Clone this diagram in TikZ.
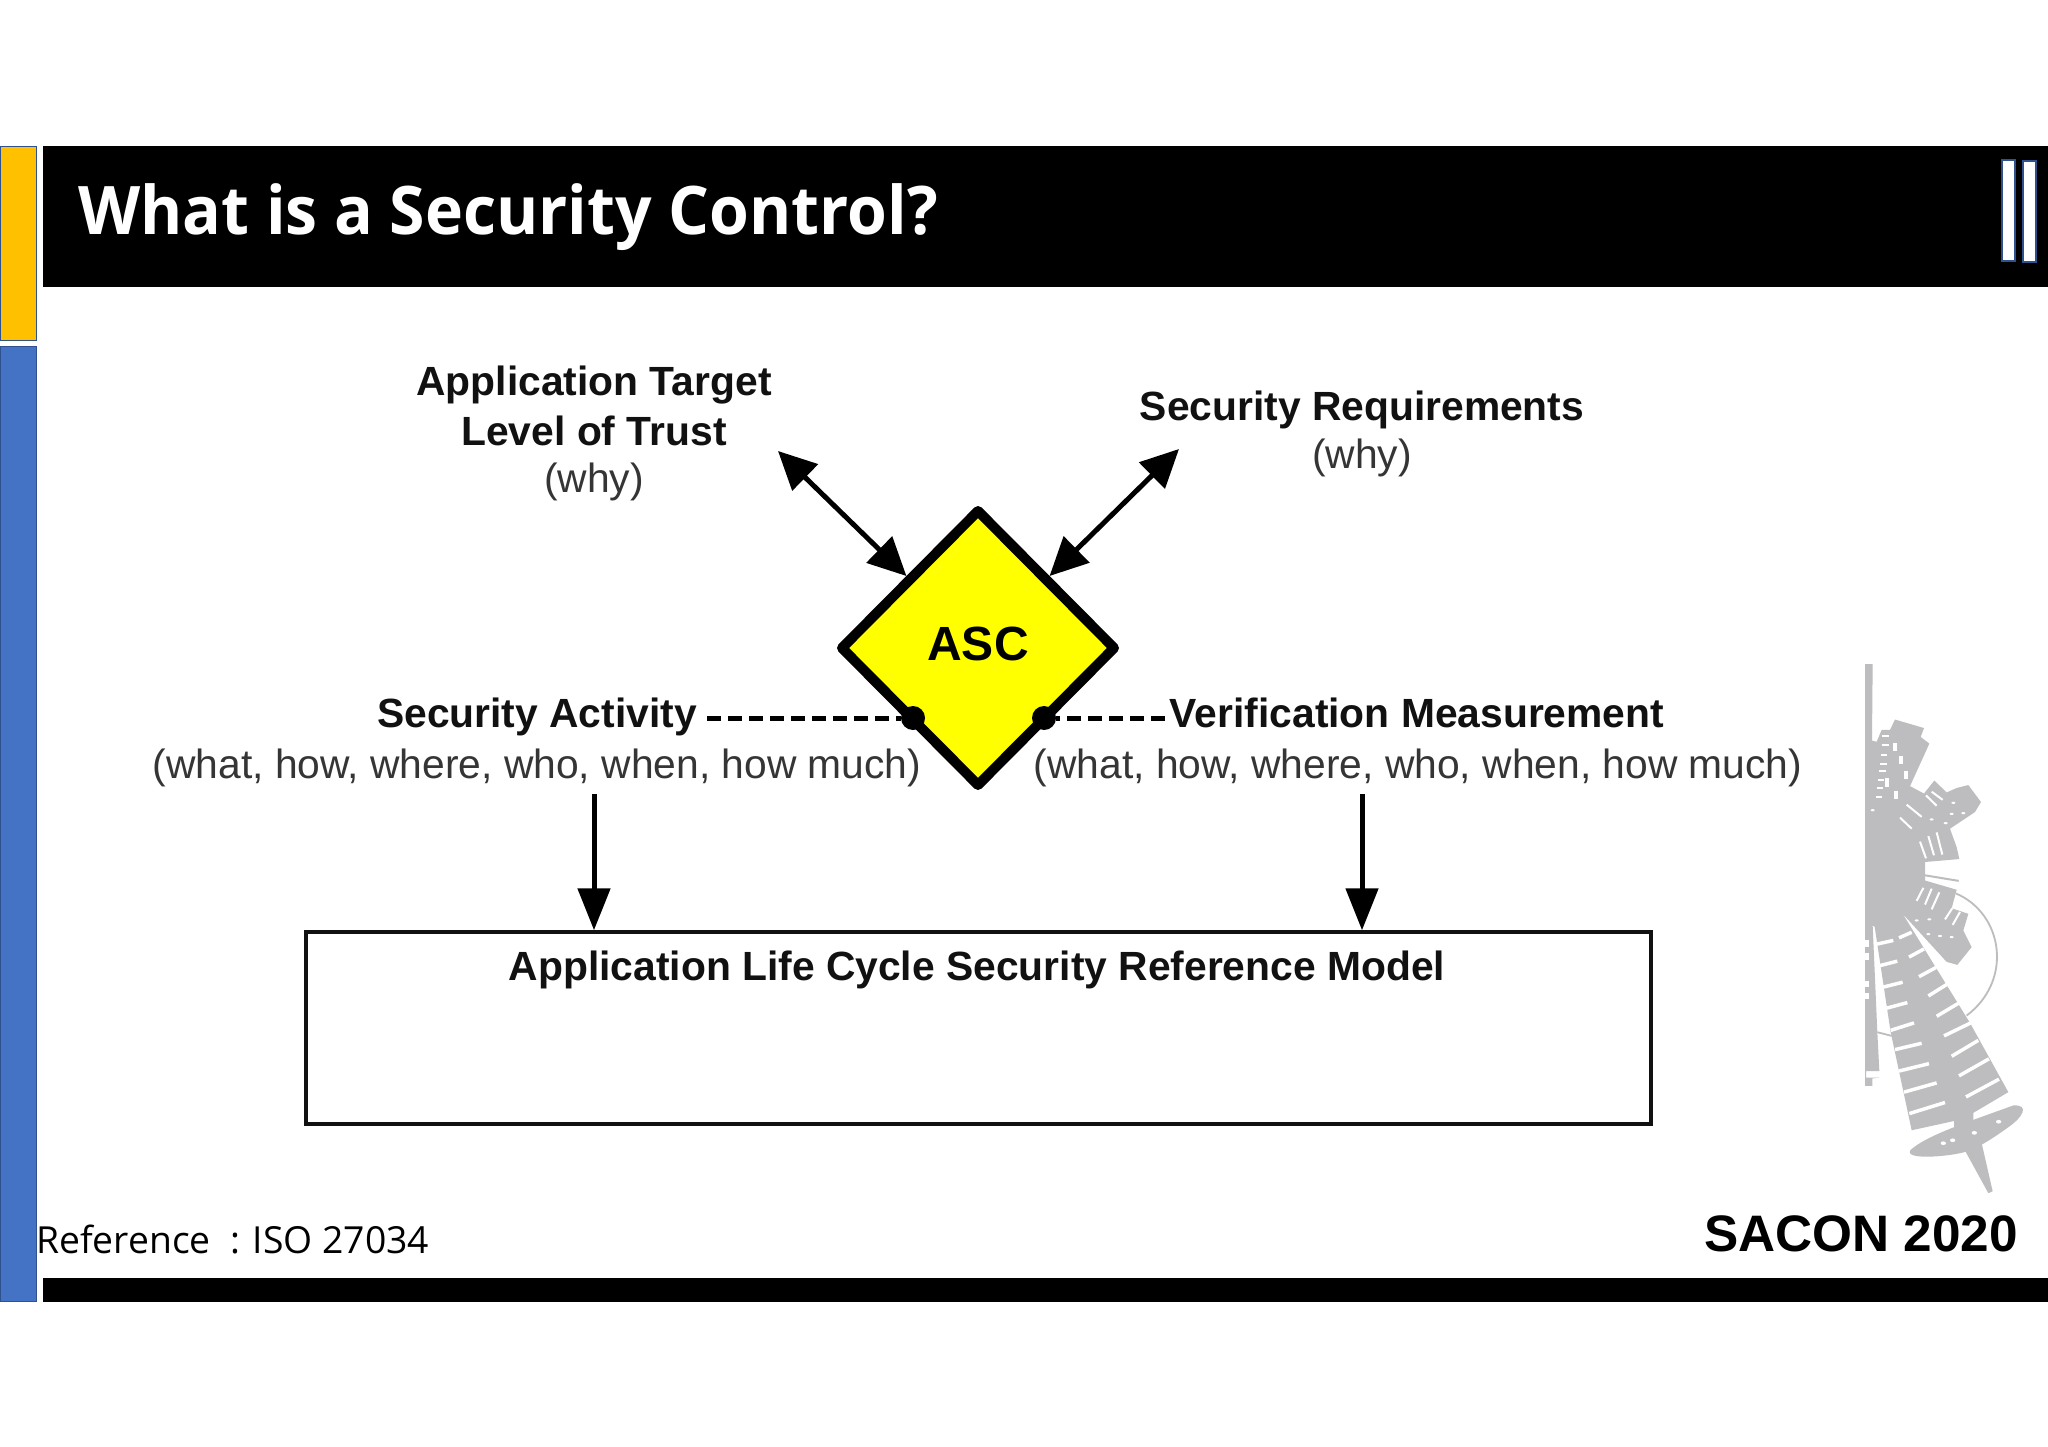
\documentclass[tikz,border=0pt]{standalone}
\usepackage{fontspec}
\setmainfont{Liberation Sans}
\newfontfamily\titlefont[FakeStretch=0.96]{Open Sans}
\newfontfamily\notefont{Open Sans}
\usetikzlibrary{shapes.geometric, arrows.meta}
\definecolor{sidegold}{HTML}{FFC000}
\definecolor{sideblue}{HTML}{4472C4}
\definecolor{barnavy}{HTML}{2F528F}
\definecolor{logogrey}{HTML}{BDBCBE}
\definecolor{inkblack}{HTML}{111111}
\definecolor{ascyellow}{HTML}{FFFF00}
\tikzset{
	sidebar/.style={fill=#1, draw=barnavy, line width=0.8pt},
	blackbar/.style={fill=black, draw=none},
	whitebar/.style={fill=white, draw=barnavy, line width=1.5pt},
	headtext/.style={font=\fontsize{40.8}{50}\bfseries\selectfont, text=inkblack, inner sep=0pt, align=center, anchor=base},
	subtext/.style={font=\fontsize{40.8}{50}\selectfont, text=inkblack!85!white, inner sep=0pt, align=center, anchor=base},
	bothways/.style={line width=5pt, shorten >=5pt, {Triangle[length=38pt,width=36pt]}-{Triangle[length=38pt,width=36pt]}},
	downway/.style={line width=5pt, -{Triangle[length=42pt,width=32pt]}},
	dashline/.style={line width=5pt, dash pattern=on 14pt off 7pt},
	joint/.style={circle, fill=black, inner sep=0pt, minimum size=24pt},
	slit/.style={white, line width=#1},
	slit/.default=3.5pt,
}
\begin{document}
\begin{tikzpicture}[x=1pt, y=-1pt]
	\useasboundingbox (0,0) rectangle (2048,1447);
	\fill[white] (0,0) rectangle (2048,1447);
	\draw[sidebar=sidegold] (0,146) rectangle (36,340);
	\draw[sidebar=sideblue] (0,346) rectangle (36,1301);
	\fill[blackbar] (43,146) rectangle (2048,287);
	\fill[blackbar] (43,1278) rectangle (2048,1302);
	\draw[whitebar] (2002,160) rectangle (2015,261);
	\draw[whitebar] (2023,161) rectangle (2036,262);
	\node[anchor=base west, text=white, inner sep=0pt, font=\fontsize{67}{70}\titlefont\bfseries\selectfont] (title) at (78,235) {What is a Security Control?};
	\node[anchor=base west, inner sep=0pt, font=\fontsize{37.3}{44}\notefont\selectfont] (source) at (36,1253) {Reference\ \ : ISO 27034};
	\node[anchor=base east, inner sep=0pt, font=\fontsize{51.3}{60}\bfseries\selectfont] (sacon) at (2018,1251) {SACON 2020};

	\node[diamond, draw=black, fill=ascyellow, line width=10pt, line join=round, inner sep=0pt, outer sep=0pt, minimum width=272pt, minimum height=274pt] (asc) at (978,648) {};
	\node[font=\fontsize{48}{48}\bfseries\selectfont, inner sep=0pt] (asclabel) at (978,644) {ASC};

	\node[headtext] (trust) at (594,445) {Application Target\\Level of Trust};
	\node[subtext] (trustwhy) at (594,492) {(why)};
	\node[headtext] (req) at (1362,420) {Security Requirements};
	\node[subtext] (reqwhy) at (1362,468) {(why)};
	\node[headtext] (act) at (537,727) {Security Activity};
	\node[subtext] (actwhat) at (537,778) {(what, how, where, who, when, how much)};
	\node[headtext] (ver) at (1417,727) {Verification Measurement};
	\node[subtext] (verwhat) at (1418,778) {(what, how, where, who, when, how much)};

	\coordinate (trustend) at (778,451);
	\coordinate (reqend) at (1179,449);
	\draw[bothways] (trustend) -- (asc.north west);
	\draw[bothways] (reqend) -- (asc.north east);

	\node[joint] (actdot) at (913,718) {};
	\node[joint] (verdot) at (1044,718) {};
	\coordinate (actdash) at (707,718);
	\coordinate (verdash) at (1165,718);
	\draw[dashline] (actdash) -- (actdot);
	\draw[dashline] (verdash) -- (verdot);

	\node[draw=inkblack, line width=3.5pt, minimum width=1345pt, minimum height=192pt, inner sep=0pt] (model) at (978.5,1028) {};
	\node[headtext] (modeltext) at (977,980) {Application Life Cycle Security Reference Model};
	\coordinate (actdown) at (594,794);
	\coordinate (verdown) at (1362,794);
	\draw[downway] (actdown) -- (actdown |- model.north);
	\draw[downway] (verdown) -- (verdown |- model.north);

	\begin{scope}[shift={(1800,640)}, x=0.3333pt, y=-0.37pt]
		\fill[logogrey] (195,65) -- (218,65) -- (216,272) -- (230,275) -- (245,243) -- (270,243) -- (285,215) -- (372,238) -- (362,262) -- (388,280) -- (330,395) -- (372,415) -- (403,380) -- (440,412) -- (470,400) -- (505,392) -- (543,438) -- (525,465) -- (450,510) -- (470,560) -- (478,592) -- (375,600) -- (375,650) -- (470,675) -- (455,725) -- (505,740) -- (490,785) -- (515,830) -- (472,878) -- (440,870) -- (308,740) -- (510,1035) -- (625,1222) -- (520,1278) -- (520,1330) -- (462,1330) -- (462,1300) -- (335,1325) -- (272,1060) -- (224,775) -- (218,772) -- (232,1060) -- (238,1165) -- (198,1165) -- (198,1183) -- (238,1183) -- (217,1185) -- (217,1205) -- (195,1205) -- cycle;
		\draw[logogrey, line width=2pt] (375,636) -- (476,651);
		\fill[logogrey] (332,1378) .. controls (380,1340) and (480,1310) .. (640,1258) .. controls (690,1255) and (670,1290) .. (620,1320) .. controls (570,1352) and (530,1375) .. (490,1385) .. controls (430,1398) and (310,1405) .. (332,1378) -- cycle;
		\fill[logogrey] (495,1380) -- (545,1360) -- (578,1490) -- (565,1495) -- cycle;
		\draw[logogrey, line width=1.8pt] (468,685) .. controls (610,740) and (640,920) .. (500,1015);
		\draw[logogrey, line width=1.8pt] (232,1060) -- (275,1070);
		\foreach \xa/\ya/\xb/\yb in {230/822/280/812, 240/880/292/868, 250/938/308/925, 260/995/322/980, 272/1055/342/1035, 285/1107/365/1090, 297/1165/387/1145, 312/1222/410/1197, 328/1280/435/1250, 297/805/335/790, 327/857/372/835, 357/910/408/885, 385/962/442/930, 410/1017/475/982, 432/1070/512/1035, 455/1125/535/1082, 477/1178/567/1132, 498/1235/597/1187}
			\draw[slit] (\xa,\ya) -- (\xb,\yb);
		\foreach \xa/\ya/\xb/\yb in {360/545/378/590, 385/530/402/582, 410/520/427/580, 350/705/370/670, 375/715/395/672, 395/728/418/682, 435/755/457/725, 458/770/480/735, 300/480/335/510, 320/445/365/478, 378/420/410/448, 395/410/428/432, 245/260/268/260, 245/285/266/285, 243/310/262/310, 240/335/260/335, 238/355/257/355, 235/378/252/378, 232/400/250/400, 228/425/246/425}
			\draw[slit=2pt] (\xa,\ya) -- (\xb,\yb);
		\foreach \xa/\ya in {285/290, 302/325, 318/365, 262/385, 288/420}
			\fill[white] (\xa-6,\ya-11) rectangle (\xa+6,\ya+11);
		\foreach \xa/\ya in {460/440, 455/470, 490/468, 437/495, 395/485, 385/795, 420/800, 455/803, 350/758, 388/755, 218/460}
			\fill[white] (\xa,\ya) ellipse [x radius=6, y radius=3];
		\foreach \ya in {820, 855, 930, 962}
			\fill[white] (195,\ya-9) rectangle (207,\ya+9);
		\foreach \xa/\ya in {430/1360, 458/1352, 523/1332, 596/1302}
			\fill[white] (\xa,\ya) ellipse [x radius=8, y radius=5];
	\end{scope}
\end{tikzpicture}
\end{document}
